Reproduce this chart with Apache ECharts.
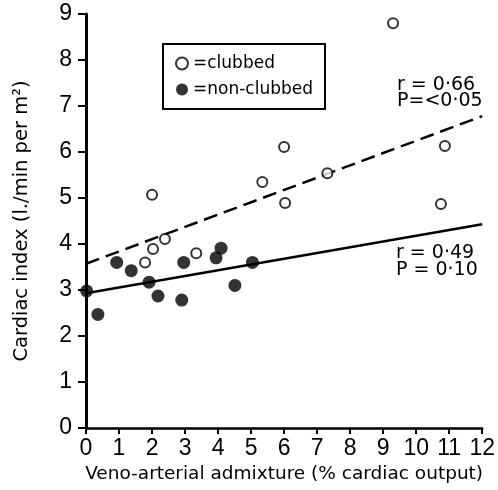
<!DOCTYPE html>
<html>
<head>
<meta charset="utf-8">
<script src="https://cdn.jsdelivr.net/npm/echarts@6/dist/echarts.min.js"></script>
<style>
  html, body { margin: 0; padding: 0; background: #fff; }
  #chart { width: 498px; height: 490px; }
</style>
</head>
<body>
<div id="chart"></div>
<script>
// 数据：从图上读出来的
const clubbed = [
    [9.3, 8.8], [2.0, 5.07], [6.0, 6.11], [10.87, 6.13], [7.31, 5.54],
    [6.03, 4.89], [10.75, 4.87], [5.34, 5.35], [2.39, 4.11], [2.03, 3.89],
    [1.79, 3.6], [3.34, 3.8]
];
const nonClubbed = [
    [0.93, 3.6], [1.37, 3.42], [0.02, 2.98], [0.36, 2.47], [1.91, 3.17],
    [2.18, 2.87], [2.9, 2.78], [2.96, 3.6], [3.94, 3.7], [4.09, 3.91],
    [4.51, 3.1], [5.04, 3.6]
];
// 回归线端点
const clubbedFit = [[0, 3.57], [12, 6.78]];
const nonClubbedFit = [[0, 2.93], [12, 4.43]];
const statsClubbed = ["r = 0·66", "P=<0·05"];
const statsNonClubbed = ["r = 0·49", "P = 0·10"];

const FONT = "DejaVu Sans";
const TICK_FONT = "Liberation Sans";
const chart = echarts.init(document.getElementById("chart"), null, { renderer: "canvas" });

const textEl = (str, x, y) => ({
    type: "text",
    x: x,
    y: y,
    style: {
        text: str,
        font: "19px '" + FONT + "'",
        fill: "#000",
        textVerticalAlign: "middle"
    }
});

let option = {
    animation: false,
    grid: { left: 86, right: 10, top: 14, bottom: 62 },
    legend: {
        data: ["clubbed", "non-clubbed"],
        orient: "vertical",
        left: 163,
        top: 44,
        icon: "circle",
        itemWidth: 12,
        itemHeight: 12,
        itemGap: 9,
        padding: [11, 12, 11, 12],
        borderColor: "#000",
        borderWidth: 2,
        formatter: "={name}",
        textStyle: { fontFamily: FONT, fontSize: 17, color: "#000" }
    },
    xAxis: {
        type: "value",
        min: 0,
        max: 12,
        interval: 1,
        name: "Veno-arterial admixture (% cardiac output)",
        nameLocation: "middle",
        nameGap: 33,
        nameTextStyle: { fontFamily: FONT, fontSize: 18.5, color: "#000", verticalAlign: "top" },
        axisLine: { lineStyle: { color: "#000", width: 2.5 } },
        axisTick: { length: 6, lineStyle: { color: "#000", width: 2 } },
        axisLabel: { margin: 9, fontFamily: TICK_FONT, fontSize: 23, color: "#000" },
        splitLine: { show: false }
    },
    yAxis: {
        type: "value",
        min: 0,
        max: 9,
        interval: 1,
        name: "Cardiac index (l./min per m²)",
        nameLocation: "middle",
        nameGap: 54,
        nameTextStyle: { fontFamily: FONT, fontSize: 19.5, color: "#000" },
        axisLine: { show: true, lineStyle: { color: "#000", width: 3 } },
        axisTick: { show: true, length: 8, lineStyle: { color: "#000", width: 2 } },
        axisLabel: { margin: 14, fontFamily: TICK_FONT, fontSize: 23, color: "#000" },
        splitLine: { show: false }
    },
    series: [
        {
            type: "line",
            data: clubbedFit,
            showSymbol: false,
            silent: true,
            lineStyle: { color: "#000", width: 2.5, type: [14, 7] },
            z: 1
        },
        {
            type: "line",
            data: nonClubbedFit,
            showSymbol: false,
            silent: true,
            lineStyle: { color: "#000", width: 2.5 },
            z: 1
        },
        {
            name: "clubbed",
            type: "scatter",
            data: clubbed,
            symbol: "circle",
            symbolSize: 10,
            itemStyle: { color: "#fff", borderColor: "#000", borderWidth: 2 },
            z: 3
        },
        {
            name: "non-clubbed",
            type: "scatter",
            data: nonClubbed,
            symbol: "circle",
            symbolSize: 13,
            itemStyle: { color: "#000" },
            z: 3
        }
    ],
    graphic: [
        textEl(statsClubbed[0], 397, 85),
        textEl(statsClubbed[1], 397, 101),
        textEl(statsNonClubbed[0], 396, 253),
        textEl(statsNonClubbed[1], 396, 270)
    ]
};
chart.setOption(option);
</script>
</body>
</html>
